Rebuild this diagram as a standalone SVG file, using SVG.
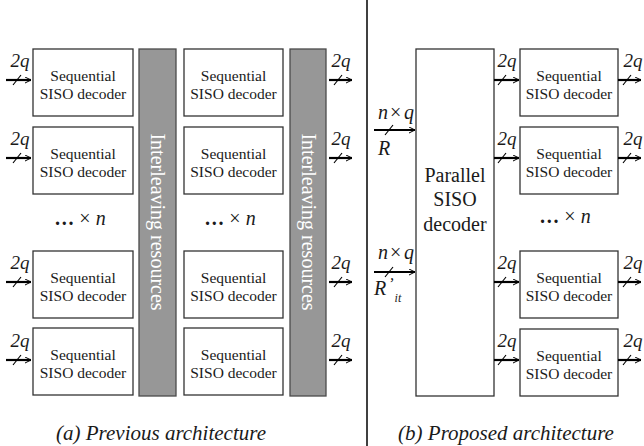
<svg xmlns="http://www.w3.org/2000/svg" width="644" height="446" viewBox="0 0 644 446">
<defs>
<style>
.box{fill:#fff;stroke:#333;stroke-width:1.3}
.bar{fill:#979797;stroke:#4a4a4a;stroke-width:1.3}
.t{font-family:"Liberation Serif","Times New Roman",serif;fill:#1a1a1a}
.bt{font-size:15.5px;text-anchor:middle}
.pt{font-size:20px;text-anchor:middle}
.it{font-style:italic}
.lb{font-family:"Liberation Serif","Times New Roman",serif;font-style:italic;font-size:19px;text-anchor:middle;fill:#1a1a1a}
.bar-t{font-family:"Liberation Serif","Times New Roman",serif;font-size:20px;fill:#fff;text-anchor:middle}
.w{stroke:#000;stroke-width:2.2;fill:none}
.s{stroke:#000;stroke-width:1.2;fill:none}
.cap{font-family:"Liberation Serif","Times New Roman",serif;font-style:italic;font-size:21px;fill:#1a1a1a;text-anchor:middle}
</style>
<marker id="ah" markerUnits="userSpaceOnUse" markerWidth="8" markerHeight="8" refX="6" refY="3" orient="auto">
<path d="M0,0 L6,3 L0,6" fill="none" stroke="#000" stroke-width="1"/>
</marker>
</defs>
<rect width="644" height="446" fill="#fff"/>

<!-- divider -->
<line x1="367" y1="0" x2="367" y2="446" stroke="#000" stroke-width="1.5"/>

<!-- (a) column 1 -->
<g id="a-dec1"><rect class="box" x="33" y="49" width="100" height="67"/><text class="t bt" x="83" y="81">Sequential</text><text class="t bt" x="83" y="99">SISO decoder</text></g>
<g id="a-dec2"><rect class="box" x="33" y="127" width="100" height="67"/><text class="t bt" x="83" y="159">Sequential</text><text class="t bt" x="83" y="177">SISO decoder</text></g>
<g id="a-dots1"><text class="t" x="80" y="225" font-size="20" text-anchor="middle"><tspan font-weight="bold">…</tspan> ×<tspan class="it"> n</tspan></text></g>
<g id="a-dec3"><rect class="box" x="33" y="251" width="100" height="67"/><text class="t bt" x="83" y="283">Sequential</text><text class="t bt" x="83" y="301">SISO decoder</text></g>
<g id="a-dec4"><rect class="box" x="33" y="328" width="100" height="67"/><text class="t bt" x="83" y="360">Sequential</text><text class="t bt" x="83" y="378">SISO decoder</text></g>

<g id="a-inter1"><rect class="bar" x="139" y="49" width="37" height="347"/><text class="bar-t" transform="translate(151,222) rotate(90)">Interleaving resources</text></g>

<!-- (a) column 2 -->
<g id="a-dec5"><rect class="box" x="184" y="49" width="99" height="67"/><text class="t bt" x="233.5" y="81">Sequential</text><text class="t bt" x="233.5" y="99">SISO decoder</text></g>
<g id="a-dec6"><rect class="box" x="184" y="127" width="99" height="67"/><text class="t bt" x="233.5" y="159">Sequential</text><text class="t bt" x="233.5" y="177">SISO decoder</text></g>
<g id="a-dots2"><text class="t" x="230" y="225" font-size="20" text-anchor="middle"><tspan font-weight="bold">…</tspan> ×<tspan class="it"> n</tspan></text></g>
<g id="a-dec7"><rect class="box" x="184" y="251" width="99" height="67"/><text class="t bt" x="233.5" y="283">Sequential</text><text class="t bt" x="233.5" y="301">SISO decoder</text></g>
<g id="a-dec8"><rect class="box" x="184" y="328" width="99" height="67"/><text class="t bt" x="233.5" y="360">Sequential</text><text class="t bt" x="233.5" y="378">SISO decoder</text></g>

<g id="a-inter2"><rect class="bar" x="290" y="49" width="36" height="347"/><text class="bar-t" transform="translate(302,222) rotate(90)">Interleaving resources</text></g>

<!-- (b) -->
<g id="b-par"><rect class="box" x="416" y="49" width="78" height="347"/><text class="t pt" x="455" y="182">Parallel</text><text class="t pt" x="455" y="206">SISO</text><text class="t pt" x="455" y="231">decoder</text></g>
<g id="b-dec1"><rect class="box" x="520" y="49" width="98" height="67"/><text class="t bt" x="569" y="81">Sequential</text><text class="t bt" x="569" y="99">SISO decoder</text></g>
<g id="b-dec2"><rect class="box" x="520" y="127" width="98" height="67"/><text class="t bt" x="569" y="159">Sequential</text><text class="t bt" x="569" y="177">SISO decoder</text></g>
<g id="b-dots"><text class="t" x="565" y="223" font-size="20" text-anchor="middle"><tspan font-weight="bold">…</tspan> ×<tspan class="it"> n</tspan></text></g>
<g id="b-dec3"><rect class="box" x="520" y="251" width="98" height="67"/><text class="t bt" x="569" y="283">Sequential</text><text class="t bt" x="569" y="301">SISO decoder</text></g>
<g id="b-dec4"><rect class="box" x="520" y="329" width="98" height="67"/><text class="t bt" x="569" y="361">Sequential</text><text class="t bt" x="569" y="379">SISO decoder</text></g>

<!-- connectors -->
<g id="connectors">
<line class="w" x1="6" y1="80" x2="31" y2="80" marker-end="url(#ah)"/><line class="s" x1="13" y1="85" x2="21" y2="75"/>
<line class="w" x1="6" y1="158" x2="31" y2="158" marker-end="url(#ah)"/><line class="s" x1="13" y1="163" x2="21" y2="153"/>
<line class="w" x1="6" y1="282" x2="31" y2="282" marker-end="url(#ah)"/><line class="s" x1="13" y1="287" x2="21" y2="277"/>
<line class="w" x1="6" y1="360" x2="31" y2="360" marker-end="url(#ah)"/><line class="s" x1="13" y1="365" x2="21" y2="355"/>
<line class="w" x1="329" y1="80" x2="352" y2="80" marker-end="url(#ah)"/><line class="s" x1="334" y1="85" x2="342" y2="75"/>
<line class="w" x1="329" y1="158" x2="352" y2="158" marker-end="url(#ah)"/><line class="s" x1="334" y1="163" x2="342" y2="153"/>
<line class="w" x1="329" y1="282" x2="352" y2="282" marker-end="url(#ah)"/><line class="s" x1="334" y1="287" x2="342" y2="277"/>
<line class="w" x1="329" y1="360" x2="352" y2="360" marker-end="url(#ah)"/><line class="s" x1="334" y1="365" x2="342" y2="355"/>
<line class="w" x1="374" y1="130" x2="415" y2="130" marker-end="url(#ah)"/><line class="s" x1="385" y1="135" x2="393" y2="125"/>
<line class="w" x1="374" y1="272" x2="415" y2="272" marker-end="url(#ah)"/><line class="s" x1="385" y1="277" x2="393" y2="267"/>
<line class="w" x1="494" y1="80" x2="519" y2="80" marker-end="url(#ah)"/><line class="s" x1="498" y1="85" x2="506" y2="75"/>
<line class="w" x1="494" y1="158" x2="519" y2="158" marker-end="url(#ah)"/><line class="s" x1="498" y1="163" x2="506" y2="153"/>
<line class="w" x1="494" y1="282" x2="519" y2="282" marker-end="url(#ah)"/><line class="s" x1="498" y1="287" x2="506" y2="277"/>
<line class="w" x1="494" y1="360" x2="519" y2="360" marker-end="url(#ah)"/><line class="s" x1="498" y1="365" x2="506" y2="355"/>
<line class="w" x1="618" y1="80" x2="641" y2="80" marker-end="url(#ah)"/><line class="s" x1="623" y1="85" x2="631" y2="75"/>
<line class="w" x1="618" y1="158" x2="641" y2="158" marker-end="url(#ah)"/><line class="s" x1="623" y1="163" x2="631" y2="153"/>
<line class="w" x1="618" y1="282" x2="641" y2="282" marker-end="url(#ah)"/><line class="s" x1="623" y1="287" x2="631" y2="277"/>
<line class="w" x1="618" y1="360" x2="641" y2="360" marker-end="url(#ah)"/><line class="s" x1="623" y1="365" x2="631" y2="355"/>

<text class="lb" x="20" y="67">2q</text><text class="lb" x="20" y="145">2q</text><text class="lb" x="20" y="269">2q</text><text class="lb" x="20" y="347">2q</text>
<text class="lb" x="341" y="67">2q</text><text class="lb" x="341" y="145">2q</text><text class="lb" x="341" y="269">2q</text><text class="lb" x="341" y="347">2q</text>
<text class="lb" x="507" y="67">2q</text><text class="lb" x="507" y="145">2q</text><text class="lb" x="507" y="269">2q</text><text class="lb" x="507" y="347">2q</text>
<text class="lb" x="633" y="67">2q</text><text class="lb" x="633" y="145">2q</text><text class="lb" x="633" y="269">2q</text><text class="lb" x="633" y="347">2q</text>

<text class="t it" font-size="20" y="119"><tspan x="378">n</tspan><tspan x="390" font-style="normal">×</tspan><tspan x="404">q</tspan></text>
<text class="t it" font-size="20" x="378" y="155">R</text>
<text class="t it" font-size="20" y="259"><tspan x="378">n</tspan><tspan x="390" font-style="normal">×</tspan><tspan x="404">q</tspan></text>
<text class="t it" font-size="20" x="374" y="295">R<tspan font-size="16" dx="2" dy="-6">’</tspan><tspan font-size="12" dx="1" dy="13">it</tspan></text>
</g>

<!-- captions -->
<text class="cap" x="161" y="440">(a) Previous architecture</text>
<text class="cap" x="506" y="440">(b) Proposed architecture</text>
</svg>
